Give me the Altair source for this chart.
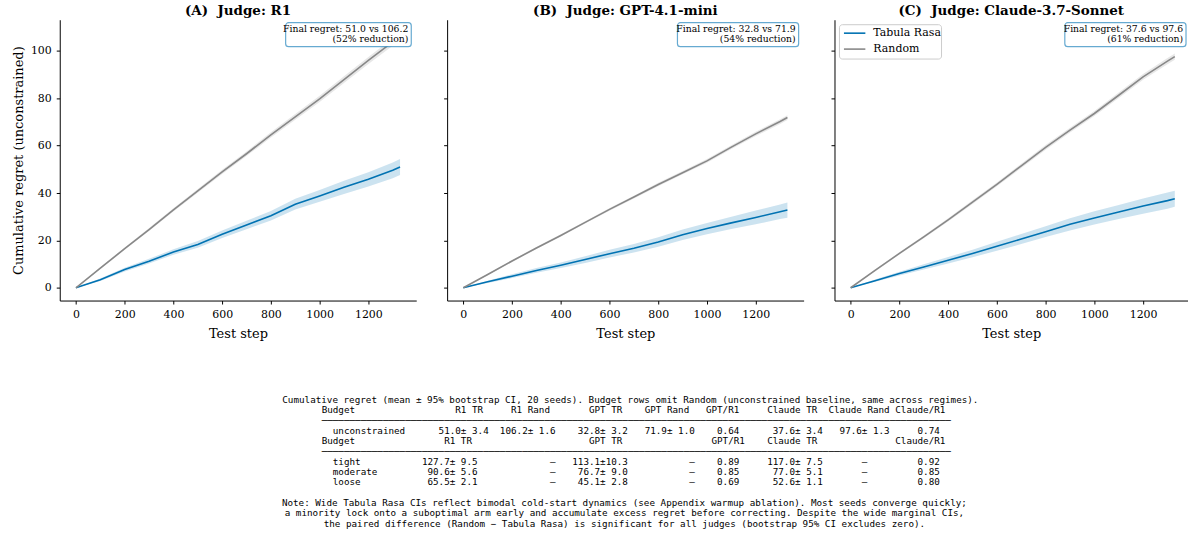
import altair as alt
import pandas as pd

# ---------------- curve data ----------------
steps = [0, 100, 200, 300, 400, 500, 600, 700, 800, 900, 1000, 1100, 1200, 1300, 1330]

r1_tr = [0, 3.4, 7.7, 11.2, 15.1, 18.3, 22.6, 26.5, 30.4, 35.3, 38.8, 42.4, 45.8, 49.6, 51.0]
r1_tr_ci = [0, 0.5, 0.8, 1.0, 1.2, 1.4, 1.6, 1.8, 2.0, 2.3, 2.5, 2.8, 3.0, 3.3, 3.4]
r1_rand = [0, 8.3, 16.5, 24.6, 32.9, 40.9, 48.9, 56.6, 64.6, 72.2, 79.8, 87.9, 96.0, 103.8, 106.2]
r1_rand_ci = [0, 0.4, 0.5, 0.6, 0.7, 0.8, 0.9, 1.0, 1.1, 1.2, 1.3, 1.4, 1.5, 1.6, 1.6]

gpt_tr = [0, 2.5, 4.9, 7.3, 9.5, 11.9, 14.4, 16.7, 19.3, 22.4, 25.0, 27.4, 29.7, 32.1, 32.8]
gpt_tr_ci = [0, 0.5, 0.8, 1.0, 1.2, 1.4, 1.6, 1.8, 2.0, 2.2, 2.4, 2.6, 2.9, 3.1, 3.2]
gpt_rand = [0, 5.6, 11.3, 16.8, 22.1, 27.6, 33.1, 38.3, 43.6, 48.6, 53.6, 59.4, 65.0, 70.2, 71.9]
gpt_rand_ci = [0, 0.3, 0.4, 0.4, 0.5, 0.5, 0.6, 0.6, 0.7, 0.7, 0.8, 0.8, 0.9, 1.0, 1.0]

claude_tr = [0, 3.0, 6.0, 8.8, 11.6, 14.5, 17.5, 20.6, 23.7, 26.8, 29.5, 32.0, 34.5, 36.8, 37.6]
claude_tr_ci = [0, 0.5, 0.8, 1.1, 1.4, 1.6, 1.9, 2.1, 2.3, 2.6, 2.8, 3.0, 3.2, 3.4, 3.4]
claude_rand = [0, 7.3, 14.5, 21.5, 28.7, 36.2, 43.7, 51.5, 59.3, 66.6, 73.6, 81.3, 89.1, 95.7, 97.6]
claude_rand_ci = [0, 0.4, 0.5, 0.6, 0.7, 0.8, 0.8, 0.9, 1.0, 1.0, 1.1, 1.2, 1.2, 1.3, 1.3]

panel_titles = ["(A)\u00a0\u00a0Judge: R1", "(B)\u00a0\u00a0Judge: GPT-4.1-mini",
                "(C)\u00a0\u00a0Judge: Claude-3.7-Sonnet"]
series_names = ["Tabula Rasa", "Random"]
final_tr = [51.0, 32.8, 37.6]
final_rand = [106.2, 71.9, 97.6]

# ---------------- table data ----------------
budgets = ["unconstrained", "tight", "moderate", "loose"]
r1_tr_mean = [51.0, 127.7, 90.6, 65.5]
r1_tr_ci_t = [3.4, 9.5, 5.6, 2.1]
gpt_tr_mean = [32.8, 113.1, 76.7, 45.1]
gpt_tr_ci_t = [3.2, 10.3, 9.0, 2.8]
claude_tr_mean = [37.6, 117.0, 77.0, 52.6]
claude_tr_ci_t = [3.4, 7.5, 5.1, 1.1]
rand_mean_t = [106.2, 71.9, 97.6]
rand_ci_t = [1.6, 1.0, 1.3]
gpt_ratio = [0.64, 0.89, 0.85, 0.69]
claude_ratio = [0.74, 0.92, 0.85, 0.80]
header1 = ["Budget", "R1 TR", "R1 Rand", "GPT TR", "GPT Rand", "GPT/R1",
           "Claude TR", "Claude Rand", "Claude/R1"]
header2 = ["Budget", "R1 TR", "GPT TR", "GPT/R1", "Claude TR", "Claude/R1"]
caption = ("Cumulative regret (mean \u00b1 95% bootstrap CI, 20 seeds). Budget rows omit "
           "Random (unconstrained baseline, same across regimes).")
note_lines = [
    "Note: Wide Tabula Rasa CIs reflect bimodal cold-start dynamics (see Appendix warmup ablation). Most seeds converge quickly;",
    "a minority lock onto a suboptimal arm early and accumulate excess regret before correcting. Despite the wide marginal CIs,",
    "the paired difference (Random \u2212 Tabula Rasa) is significant for all judges (bootstrap 95% CI excludes zero).",
]

# ---------------- styles ----------------
BLUE = "#0072B2"
GRAY = "#888888"
SERIES_COLORS = [BLUE, GRAY]
SERIF = "DejaVu Serif"
MONO = "DejaVu Sans Mono"

curves = [
    (r1_tr, r1_tr_ci, r1_rand, r1_rand_ci),
    (gpt_tr, gpt_tr_ci, gpt_rand, gpt_rand_ci),
    (claude_tr, claude_tr_ci, claude_rand, claude_rand_ci),
]

Y_DOM = [-5.4, 113.2]
PW = [358, 358, 355]
X_DOM = [[-66.5, 1396.5], [-66.5, 1396.5], [-66.5, -66.5 + 355 * 1463 / 358]]


def cscale():
    return alt.Scale(domain=series_names, range=SERIES_COLORS)


def legend_layers():
    one = pd.DataFrame({"k": [0]})
    layers = [alt.Chart(one).mark_rect(fill="white", fillOpacity=0.8, stroke="#cccccc",
                                       strokeWidth=1, cornerRadius=3).encode(
        x=alt.value(5), x2=alt.value(107.5), y=alt.value(5), y2=alt.value(39.5))]
    for k, name in enumerate(series_names):
        yy = 13.5 + 16 * k
        layers.append(alt.Chart(one).mark_rule(strokeWidth=1.6, color=SERIES_COLORS[k]).encode(
            x=alt.value(9.5), x2=alt.value(31), y=alt.value(yy)))
        layers.append(alt.Chart(pd.DataFrame({"name": [name]})).mark_text(
            align="left", baseline="middle", font=SERIF, fontSize=11, color="black").encode(
            x=alt.value(39), y=alt.value(yy), text="name:N"))
    return layers


def panel(i):
    tr, trc, rd, rdc = curves[i]
    rows = []
    for name, m, c in ((series_names[0], tr, trc), (series_names[1], rd, rdc)):
        for s, mv, cv in zip(steps, m, c):
            rows.append({"series": name, "band": name, "step": s, "mean": mv,
                         "lo": mv - cv, "hi": mv + cv})
    df = pd.DataFrame(rows)
    W = PW[i]
    xs = alt.Scale(domain=X_DOM[i], nice=False, zero=False)
    ys = alt.Scale(domain=Y_DOM, nice=False, zero=False)
    xax = alt.Axis(values=[0, 200, 400, 600, 800, 1000, 1200], title="Test step", format="d")
    if i == 0:
        yax = alt.Axis(values=[0, 20, 40, 60, 80, 100], title="Cumulative regret (unconstrained)")
    else:
        yax = alt.Axis(values=[0, 20, 40, 60, 80, 100], labels=False, title=None)

    base = alt.Chart(df)
    band = base.mark_area(opacity=0.2).encode(
        x=alt.X("step:Q", scale=xs, axis=xax),
        y=alt.Y("lo:Q", scale=ys, axis=yax),
        y2="hi:Q",
        fill=alt.Fill("band:N", scale=cscale(), legend=None),
        detail="band:N",
    )
    line = base.mark_line(strokeWidth=1.6).encode(
        x=alt.X("step:Q", scale=xs, axis=xax),
        y=alt.Y("mean:Q", scale=ys, axis=yax),
        stroke=alt.Stroke("series:N", scale=cscale(), legend=None),
    )

    red = round((1 - final_tr[i] / final_rand[i]) * 100)
    l1 = f"Final regret: {final_tr[i]:.1f} vs {final_rand[i]:.1f}"
    l2 = f"({red:.0f}% reduction)"
    ann = pd.DataFrame({"l1": [l1], "l2": [l2]})
    right = 353
    bw = len(l1) * 4.45 + 6
    box = alt.Chart(ann).mark_rect(fill="white", stroke=BLUE, strokeOpacity=0.6,
                                    strokeWidth=1.2, cornerRadius=3).encode(
        x=alt.value(right - bw), x2=alt.value(right), y=alt.value(3), y2=alt.value(27))
    t1 = alt.Chart(ann).mark_text(align="right", baseline="middle", font=SERIF,
                                  fontSize=9.3, color="black").encode(
        x=alt.value(right - 3), y=alt.value(9.5), text="l1:N")
    t2 = alt.Chart(ann).mark_text(align="right", baseline="middle", font=SERIF,
                                  fontSize=9.3, color="black").encode(
        x=alt.value(right - 3), y=alt.value(19.5), text="l2:N")

    layers = [band, line, box, t1, t2]
    if i == 2:
        layers += legend_layers()
    return alt.layer(*layers).properties(
        width=W, height=282,
        title=alt.TitleParams(panel_titles[i], font=SERIF, fontSize=13.5, fontWeight="bold",
                              color="black", offset=2.5, anchor="middle"),
    )


# ---------------- table text ----------------
NB = "\u00a0"
ZW = "\u200b"
LINE_W = 113


def place(items):
    buf = [" "] * LINE_W
    for col, s in items:
        for k, ch in enumerate(s):
            if 0 <= col + k < LINE_W:
                buf[col + k] = ch
    return ZW + "".join(buf).rstrip().replace(" ", NB)


def pm(m, c):
    return f"{m:.1f}\u00b1{c:4.1f}"


H1_COLS = [0, 24, 34, 48, 58, 69, 80, 91, 103]
U_COLS = [2, 21, 32, 46, 58, 71, 81, 93, 107]
H2_COLS = [0, 22, 48, 70, 80, 103]

rule = "\u2500" * LINE_W
line_h1 = place(list(zip(H1_COLS, header1)))
uvals = [budgets[0],
         pm(r1_tr_mean[0], r1_tr_ci_t[0]), pm(rand_mean_t[0], rand_ci_t[0]),
         pm(gpt_tr_mean[0], gpt_tr_ci_t[0]), pm(rand_mean_t[1], rand_ci_t[1]),
         f"{gpt_ratio[0]:.2f}", pm(claude_tr_mean[0], claude_tr_ci_t[0]),
         pm(rand_mean_t[2], rand_ci_t[2]), f"{claude_ratio[0]:.2f}"]
line_u = place(list(zip(U_COLS, uvals)))
line_h2 = place(list(zip(H2_COLS, header2)))


def budget_line(k):
    a = pm(r1_tr_mean[k], r1_tr_ci_t[k])
    g = pm(gpt_tr_mean[k], gpt_tr_ci_t[k])
    c = pm(claude_tr_mean[k], claude_tr_ci_t[k])
    return place([(2, budgets[k]), (28 - len(a), a), (41, "\u2014"), (55 - len(g), g),
                  (66, "\u2014"), (71, f"{gpt_ratio[k]:.2f}"), (90 - len(c), c),
                  (97, "\u2014"), (107, f"{claude_ratio[k]:.2f}")])


table_df = pd.DataFrame({
    "line": [1, 2, 3, 4, 5, 6, 7, 8],
    "txt": [line_h1, rule, line_u, line_h2, rule, budget_line(1), budget_line(2), budget_line(3)],
})
caption_df = pd.DataFrame({"line": [0], "txt": [caption.replace(" ", NB)]})
note_df = pd.DataFrame({"line": [10, 11, 12], "txt": [t.replace(" ", NB) for t in note_lines]})

TXT_W = 1100
TXT_H = 124
ty = alt.Y("line:Q", scale=alt.Scale(domain=[0, 12], reverse=True, nice=False), axis=None)
tcap = alt.Chart(caption_df).mark_text(font=MONO, fontSize=9.3, align="center",
                                       baseline="middle", color="black").encode(
    x=alt.value(573), y=ty, text="txt:N")
tnote = alt.Chart(note_df).mark_text(font=MONO, fontSize=9.3, align="center",
                                     baseline="middle", color="black").encode(
    x=alt.value(567), y=ty, text="txt:N")
tt = alt.Chart(table_df).mark_text(font=MONO, fontSize=9.3, align="left",
                                   baseline="middle", color="black").encode(
    x=alt.value(263), y=ty, text="txt:N")
text_chart = alt.layer(tcap, tnote, tt).properties(width=TXT_W, height=TXT_H)

top = alt.hconcat(panel(0), panel(1), panel(2), spacing=27).resolve_scale(
    fill="independent", stroke="independent")

chart = alt.vconcat(top, text_chart, spacing=55).properties(
    padding={"left": 12, "top": 2.7, "right": 0, "bottom": 0}
).configure_view(stroke=None).configure_axis(
    domainColor="black", domainWidth=1, tickColor="black", tickSize=3.5, tickWidth=1,
    labelFont=SERIF, labelFontSize=11, labelColor="black", labelPadding=4.5,
    titleFont=SERIF, titleFontSize=13, titleFontWeight="normal", titleColor="black",
    grid=False,
).configure_axisY(labelPadding=5, titlePadding=5).configure_axisX(titlePadding=8.5)

chart.save("out.html", embed_options={"renderer": "svg", "actions": False})
